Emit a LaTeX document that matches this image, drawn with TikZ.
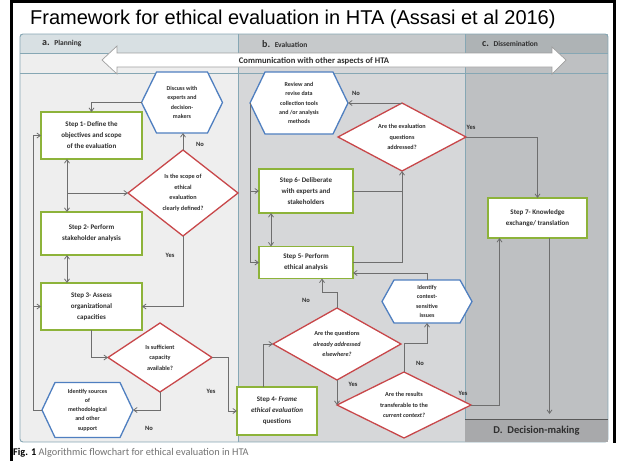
\documentclass[tikz,border=0pt]{standalone}
\usepackage{fontspec}
\usepackage{graphicx}
\setmainfont{Liberation Sans}
\newfontfamily\cf{Carlito}
\usetikzlibrary{arrows.meta,shapes.geometric,calc}

\definecolor{stepgreen}{HTML}{8DB33A}
\definecolor{decred}{HTML}{C8474A}
\definecolor{hexblue}{HTML}{4F7FC0}
\definecolor{wire}{HTML}{6E6E6E}
\definecolor{bodyA}{HTML}{EEEEEE}
\definecolor{bodyB}{HTML}{D6D7D9}
\definecolor{bodyC}{HTML}{BEC0C2}
\definecolor{hdrA}{HTML}{D8E0E3}
\definecolor{hdrB}{HTML}{C6C9CB}
\definecolor{hdrC}{HTML}{AEB3B5}
\definecolor{rulecol}{HTML}{86A7B4}
\definecolor{dmfill}{HTML}{A8A9AB}
\definecolor{ink}{HTML}{2E2E2E}

\tikzset{
  stepbox/.style={draw=stepgreen, line width=1.3pt, fill=white, align=center,
    inner sep=1pt, outer sep=0pt, text=ink,
    font=\cf\bfseries\fontsize{7}{11}\selectfont},
  decide/.style={diamond, draw=decred, line width=1.3pt, fill=white, align=center,
    inner sep=0pt, outer sep=0pt, text=ink,
    font=\cf\bfseries\fontsize{6.2}{10.6}\selectfont},
  hexline/.style={draw=hexblue, line width=1.3pt, fill=white},
  hextext/.style={align=center, inner sep=0pt, outer sep=0pt, text=ink,
    font=\cf\bfseries\fontsize{6}{9.2}\selectfont},
  arr/.style={draw=wire, line width=0.8pt, -{Straight Barb[length=3.5pt,width=5pt]}},
  darr/.style={draw=wire, line width=0.8pt,
    {Straight Barb[length=3.5pt,width=5pt]}-{Straight Barb[length=3.5pt,width=5pt]}},
  wireline/.style={draw=wire, line width=0.8pt},
  lbl/.style={text=ink, inner sep=0pt, font=\cf\bfseries\fontsize{6.5}{8}\selectfont},
  colhead/.style={anchor=west, text=ink, inner sep=0pt},
}

% hexagon with pointed left and right ends:
% name, centre x, centre y, half width, half height, chamfer, text
\newcommand\hexagonnode[7]{%
  \coordinate (#1-l) at ({#2-#4},#3);
  \coordinate (#1-r) at ({#2+#4},#3);
  \filldraw[hexline] (#1-l) -- ({#2-#4+#6},{#3-#5}) -- ({#2+#4-#6},{#3-#5})
    -- (#1-r) -- ({#2+#4-#6},{#3+#5}) -- ({#2-#4+#6},{#3+#5}) -- cycle;
  \node[hextext, minimum width={2*(#4-#6)}, minimum height={2*#5}] (#1) at (#2,#3) {#7};
}
\newcommand\colheadtext[2]{{\cf\bfseries\fontsize{10}{10}\selectfont #1\ \ \fontsize{7.5}{9}\selectfont #2}}

\begin{document}
\begin{tikzpicture}[x=1pt, y=-1pt]
\useasboundingbox (0,0) rectangle (621,461);
\fill[white] (0,0) rectangle (621,461);

% title
\node[anchor=base west, inner sep=0pt, font=\fontsize{20}{22}\selectfont] (title) at (30,24)
  {Framework for ethical evaluation in HTA (Assasi et al 2016)};

% column backgrounds
\fill[bodyA] (20,34) rectangle (238,442);
\fill[bodyB] (238,34) rectangle (465,442);
\fill[bodyC] (465,34) rectangle (608,442);
\fill[hdrA] (20,34) rectangle (238,53);
\fill[hdrB] (238,34) rectangle (465,53);
\fill[hdrC] (465,34) rectangle (608,53);
\draw[rulecol, line width=0.7pt] (20,53) -- (608,53);
\draw[rulecol, line width=0.7pt] (20,73) -- (608,73);
\draw[rulecol, line width=0.9pt] (238,34) -- (238,442);
\draw[rulecol, line width=0.9pt] (465,34) -- (465,442);
\draw[rulecol, line width=0.9pt, rounded corners=3pt] (20,34) rectangle (608,442);

% column headings
\node[colhead] (ha) at (42,44) {\colheadtext{a.}{Planning}};
\node[colhead] (hb) at (262,44) {\colheadtext{b.}{Evaluation}};
\node[colhead] (hc) at (482,44) {\colheadtext{c.}{Dissemination}};

% communication band
\filldraw[fill=white, draw=gray!75, line width=0.7pt]
  (102,60) -- (117,46) -- (117,53) -- (552,53) -- (552,47) -- (566,60)
  -- (552,74) -- (552,67) -- (117,67) -- (117,74) -- cycle;
\node[inner sep=0pt, text=ink, font=\cf\bfseries\fontsize{8.6}{10}\selectfont] (comm) at (314,61)
  {Communication with other aspects of HTA};

% decision-making bar
\node[fill=dmfill, minimum width=143pt, minimum height=23pt, inner sep=0pt, outer sep=0pt,
  text=ink, font=\cf\bfseries\fontsize{10.5}{12}\selectfont] (dm) at (536.5,430.5)
  {D.\ \ Decision-making};
\draw[draw=black!65, line width=1pt] (dm.north west) -- (dm.north east);

% planning steps
\node[stepbox, minimum width=101pt, minimum height=47pt] (s1) at (91.5,135.5)
  {Step 1- Define the\\objectives and scope\\of the evaluation};
\node[stepbox, minimum width=101pt, minimum height=43pt] (s2) at (91.5,233.5)
  {Step 2- Perform\\stakeholder analysis};
\node[stepbox, minimum width=101pt, minimum height=47pt] (s3) at (91.5,306.5)
  {Step 3- Assess\\organizational\\capacities};
\node[decide, aspect=1.28, minimum width=110pt, minimum height=86pt] (d1) at (183,193)
  {Is the scope of\\ethical\\evaluation\\clearly defined?};
\node[decide, aspect=1.5, minimum width=104pt, minimum height=69pt] (d2) at (160,357.5)
  {Is sufficient\\capacity\\available?};
\hexagonnode{hexD}{182}{102.5}{40.5}{30.5}{15}{Discuss with\\experts and\\decision-\\makers}
\hexagonnode{hexS}{87.5}{410}{45.5}{27.5}{13}{Identify sources\\of\\methodological\\and other\\support}

% evaluation steps
\node[stepbox, minimum width=80pt, minimum height=48pt] (s4) at (277,411)
  {Step 4- \textit{Frame}\\\textit{ethical evaluation}\\questions};
\node[stepbox, minimum width=94pt, minimum height=32pt] (s5) at (306,262.5)
  {Step 5- Perform\\ethical analysis};
\node[stepbox, minimum width=94pt, minimum height=44pt] (s6) at (306,191)
  {Step 6- Deliberate\\with experts and\\stakeholders};
\node[decide, aspect=1.78, minimum width=128pt, minimum height=72pt] (d3) at (337,344)
  {Are the questions\\\textit{already addressed}\\\textit{elsewhere?}};
\node[decide, aspect=2, minimum width=134pt, minimum height=66pt] (d4) at (404,405)
  {Are the results\\transferable to the\\\textit{current context?}};
\node[decide, aspect=1.9, minimum width=128pt, minimum height=68pt] (d5) at (402,137)
  {Are the evaluation\\questions\\addressed?};
\hexagonnode{hexR}{299}{103}{49}{31}{15}{Review and\\revise data\\collection tools\\and /or analysis\\methods}
\hexagonnode{hexC}{427}{301.5}{45}{21.5}{12}{Identify\\context-\\sensitive\\issues}

% dissemination
\node[stepbox, minimum width=99pt, minimum height=40pt] (s7) at (537.5,218)
  {Step 7- Knowledge\\exchange/ translation};

% junction points
\coordinate (jl) at ([xshift=-24.5pt]s1.south);
\coordinate (jd) at (jl |- d1.west);
\coordinate (loopA) at ($(hexS-l)+(-9,0)$);
\coordinate (loopB) at (loopA |- s3.west);
\coordinate (jR) at (hexR-l |- s6.west);

% planning connectors
\draw[arr] (hexD-l) -| (s1.north);
\draw[arr] (d1.north) -- (d1.north |- hexD.south);
\node[lbl] (noA) at (200,144) {No};
\draw[darr] (jl) -- (jl |- s2.north);
\draw[arr] (jd) -- (d1.west);
\draw[darr] ([xshift=-24.5pt]s2.south) -- ([xshift=-24.5pt]s3.north);
\draw[arr] (d1.south) |- (s3.east);
\node[lbl] (yesA) at (170,255) {Yes};
\draw[arr] (s3.south) |- (d2.west);
\draw[arr] (d2.south) |- (hexS-r);
\node[lbl] (noB) at (149,428) {No};
\draw[arr] (d2.east) -- ++(16,0) |- (s4.west);
\node[lbl] (yesB) at (211,391) {Yes};
\draw[arr] (hexS-l) -- (loopA) |- (s1.west);
\draw[arr] (loopB) -- (s3.west);

% evaluation connectors
\draw[arr] ([xshift=-14pt]s4.north) |- (d3.west);
\draw[arr] (d3.north) -- ++(0,-16) -| ([xshift=16pt]s5.south);
\node[lbl] (noC) at (306,300) {No};
\draw[arr] (d3.south) -- (d3.south |- d4.west);
\node[lbl] (yesC) at (353,384) {Yes};
\draw[arr] (d4.north) -- ++(0,-29) -| (hexC.south);
\node[lbl] (noD) at (420,363) {No};
\draw[arr] (hexC.north) |- ([yshift=-10.5pt]s5.east);
\draw[arr] (s5.east) -| (d5.south);
\draw[wireline] (s6.east) -- (s6.east -| d5.south);
\draw[darr] ([xshift=-35pt]s6.south) -- ([xshift=-35pt]s5.north);
\draw[arr] (hexR-l) |- (s5.west);
\draw[arr] (jR) -- (s6.west);
\draw[arr] (d5.north) -- (hexR-r);
\node[lbl] (noE) at (356,93) {No};

% dissemination connectors
\draw[arr] (d5.east) -| (s7.north);
\node[lbl] (yesD) at (471,127) {Yes};
\draw[arr] (d4.east) -| ([xshift=-38pt]s7.south);
\node[lbl] (yesE) at (463,393) {Yes};
\draw[arr, shorten >=5pt] ([xshift=12pt]s7.south) -- ([xshift=12pt]s7.south |- dm.north);

% caption
\node[anchor=west, inner sep=0pt, font=\cf\fontsize{10.3}{12}\selectfont] (cap) at (13,453)
  {\textbf{Fig. 1}\ \textcolor{black!55}{Algorithmic flowchart for ethical evaluation in HTA}};

% outer frame
\draw[black, line width=3pt] (11.5,461) -- (11.5,1.5) -- (614.5,1.5) -- (614.5,443);
\end{tikzpicture}
\end{document}
